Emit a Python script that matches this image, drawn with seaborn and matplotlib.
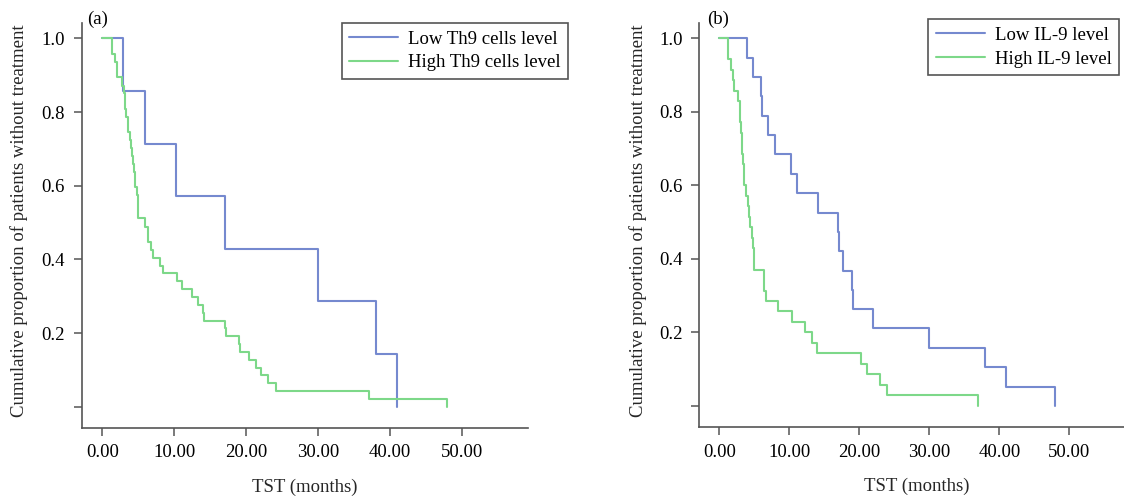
import matplotlib
matplotlib.use("Agg")
import matplotlib.pyplot as plt
import numpy as np
import pandas as pd
import seaborn as sns

# Kaplan-Meier step data: event times (months) and survival level after each drop
th9_low_t = [2.9, 6.0, 10.2, 17.0, 30.0, 38.0, 41.0]
th9_low_s = [0.857, 0.714, 0.571, 0.429, 0.286, 0.143, 0.0]

th9_high_t = [1.35, 1.8, 2.1, 2.7, 3.0, 3.1, 3.2, 3.35, 3.5, 3.6, 3.9, 4.0, 4.13,
              4.25, 4.36, 4.5, 4.6, 4.83, 4.9, 4.97, 5.0, 6.0, 6.3, 6.4, 6.7, 7.05,
              8.0, 8.5, 10.4, 11.1, 12.5, 13.3, 14.0, 14.1, 17.0, 17.2, 19.0, 19.1,
              20.4, 21.4, 22.05, 23.0, 24.1, 37.1, 48.0]
th9_high_s = [0.957, 0.936, 0.894, 0.872, 0.851, 0.830, 0.809, 0.787, 0.766, 0.745,
              0.723, 0.702, 0.681, 0.660, 0.638, 0.617, 0.596, 0.574, 0.553, 0.532,
              0.511, 0.489, 0.468, 0.447, 0.426, 0.404, 0.383, 0.362, 0.340, 0.319,
              0.298, 0.277, 0.255, 0.234, 0.213, 0.191, 0.170, 0.149, 0.128, 0.106,
              0.085, 0.064, 0.043, 0.021, 0.0]

il9_low_t = [3.9, 4.86, 5.96, 6.1, 7.0, 7.96, 10.2, 11.05, 14.1, 17.0, 17.05, 17.6,
             19.0, 19.05, 22.0, 30.0, 38.0, 41.0, 48.0]
il9_low_s = [0.947, 0.895, 0.842, 0.789, 0.737, 0.684, 0.632, 0.579, 0.526, 0.474,
             0.421, 0.368, 0.316, 0.263, 0.211, 0.158, 0.105, 0.053, 0.0]

il9_high_t = [1.29, 1.3, 1.63, 2.0, 2.02, 2.6, 2.96, 3.0, 3.1, 3.2, 3.25, 3.43, 3.5,
              3.57, 3.8, 4.05, 4.2, 4.39, 4.72, 4.85, 4.95, 5.0, 6.39, 6.4, 6.67,
              8.43, 10.43, 12.3, 13.2, 14.0, 20.2, 21.1, 22.96, 23.9, 37.0]
il9_high_s = [0.971, 0.943, 0.914, 0.886, 0.857, 0.829, 0.800, 0.771, 0.743, 0.714,
              0.686, 0.657, 0.629, 0.600, 0.571, 0.543, 0.514, 0.486, 0.457, 0.429,
              0.400, 0.371, 0.343, 0.314, 0.286, 0.257, 0.229, 0.200, 0.171, 0.143,
              0.114, 0.086, 0.057, 0.029, 0.0]

labels_a = ["Low Th9 cells level", "High Th9 cells level"]
labels_b = ["Low IL-9 level", "High IL-9 level"]
x_ticks = [0, 10, 20, 30, 40, 50]
y_ticks = [0.0, 0.2, 0.4, 0.6, 0.8, 1.0]
y_tick_labels = ["", "0.2", "0.4", "0.6", "0.8", "1.0"]

BLUE = "#7589cf"
GREEN = "#7dd889"
AXIS = "#555555"
FS = 13.5

sns.set_theme(style="ticks")
plt.rcParams["font.family"] = ["Liberation Serif", "DejaVu Serif"]
plt.rcParams["text.color"] = "black"


def km_frame(groups):
    rows = []
    for name, t, s in groups:
        rows.append((name, 0.0, 1.0))
        rows.extend((name, ti, si) for ti, si in zip(t, s))
    return pd.DataFrame(rows, columns=["group", "time", "surv"])


def draw_panel(ax, df, labels, legend_anchor, fig):
    sns.lineplot(data=df, x="time", y="surv", hue="group", hue_order=labels,
                 palette=[BLUE, GREEN], drawstyle="steps-post", estimator=None,
                 sort=False, linewidth=1.5, ax=ax)
    ax.set_ylim(-0.057, 1.041)
    ax.set_xticks(x_ticks)
    ax.set_xticklabels([f"{v:.2f}" for v in x_ticks])
    ax.set_yticks(y_ticks)
    ax.set_yticklabels(y_tick_labels)
    ax.tick_params(axis="both", direction="out", length=6, width=1.1,
                   color=AXIS, labelsize=FS, labelcolor="black", pad=6)
    sns.despine(ax=ax)
    for side in ("left", "bottom"):
        ax.spines[side].set_color(AXIS)
        ax.spines[side].set_linewidth(1.2)
    ax.set_xlabel("TST (months)", fontsize=FS, va="center")
    ax.xaxis.set_label_coords(0.5, -0.147)
    ax.set_ylabel("Cumulative proportion of patients without treatment",
                  fontsize=FS, va="center")
    ax.yaxis.set_label_coords(-0.1404, 0.511)
    handles, labs = ax.get_legend_handles_labels()
    leg = ax.legend(handles, labs, loc="upper left", bbox_to_anchor=legend_anchor,
                    bbox_transform=fig.transFigure, frameon=True, fancybox=False,
                    edgecolor=AXIS, framealpha=1, fontsize=FS, handlelength=2.6,
                    labelspacing=0.35, borderpad=0.4, handletextpad=0.55,
                    borderaxespad=0)
    leg.get_frame().set_linewidth(1.2)


fig = plt.figure(figsize=(11.24, 4.98), dpi=100)

ax_a = fig.add_axes([0.0727, 0.1412, 0.3973, 0.812])
df_a = km_frame([(labels_a[0], th9_low_t, th9_low_s),
                 (labels_a[1], th9_high_t, th9_high_s)])
draw_panel(ax_a, df_a, labels_a, (0.304, 0.954), fig)
ax_a.set_xlim(-2.87, 59.25)

ax_b = fig.add_axes([0.6222, 0.1426, 0.3868, 0.811])
df_b = km_frame([(labels_b[0], il9_low_t, il9_low_s),
                 (labels_b[1], il9_high_t, il9_high_s)])
draw_panel(ax_b, df_b, labels_b, (0.826, 0.961), fig)
ax_b.set_xlim(-2.86, 59.25)

fig.text(0.0774, 0.962, "(a)", fontsize=FS, va="center", ha="left")
fig.text(0.629, 0.962, "(b)", fontsize=FS, va="center", ha="left")

fig.savefig("out.png", dpi=100)
